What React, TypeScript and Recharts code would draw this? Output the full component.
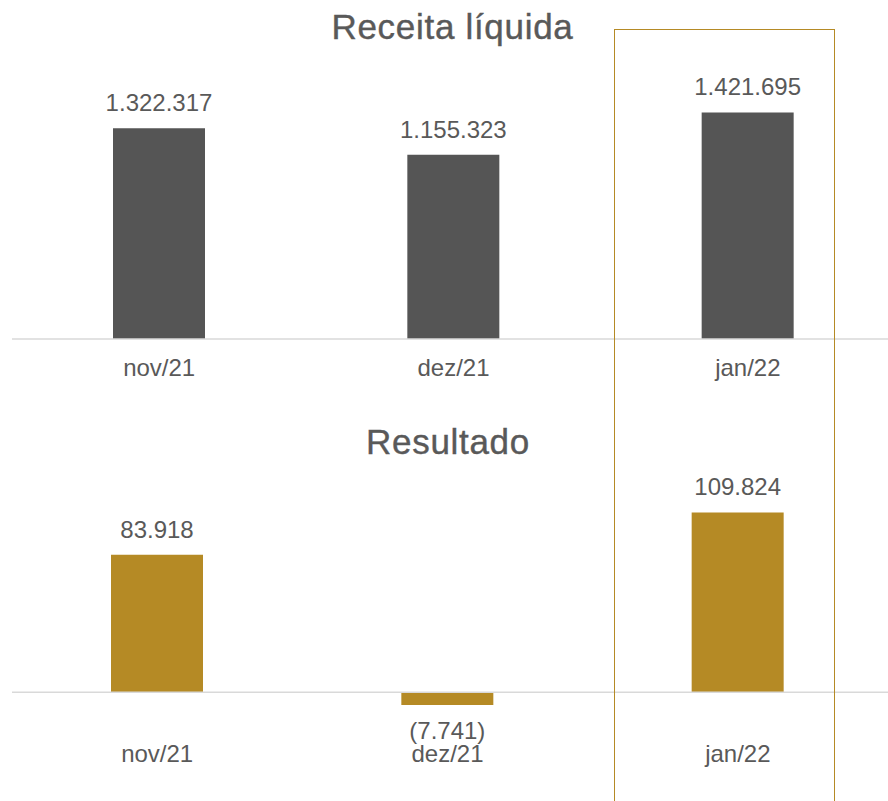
import { BarChart, Bar, XAxis, YAxis, LabelList, ReferenceLine } from 'recharts';

const months = ['nov/21', 'dez/21', 'jan/22'];
const receitaLiquida = [1322317, 1155323, 1421695];
const resultado = [83918, -7741, 109824];

const receitaData = months.map((month, i) => ({ month, value: receitaLiquida[i] }));
const resultadoData = months.map((month, i) => ({ month, value: resultado[i] }));

const TEXT = '#595959';
const GRAY_BAR = '#555555';
const GOLD = '#B58A25';
const ZERO_LINE = '#d9d9d9';

// pt-BR style: 1.234.567, negatives in parentheses
function formatValue(v: number) {
  const abs = String(Math.abs(v)).replace(/\B(?=(\d{3})+(?!\d))/g, '.');
  return v < 0 ? `(${abs})` : abs;
}

function Title({ text, baseline, cx }: { text: string; baseline: number; cx: number }) {
  const size = 35;
  return (
    <div
      style={{
        position: 'absolute',
        left: cx - 200,
        width: 400,
        top: baseline - size * 0.8465,
        fontSize: size,
        lineHeight: `${size}px`,
        letterSpacing: 0.7,
        textAlign: 'center',
        color: TEXT,
        WebkitTextStroke: `0.4px ${TEXT}`,
      }}
    >
      {text}
    </div>
  );
}

export default function App() {
  const tick = { fill: TEXT, fontSize: 24 };
  return (
    <div
      style={{
        position: 'absolute',
        left: 0,
        top: 0,
        width: 888,
        height: 801,
        overflow: 'hidden',
        background: '#fff',
        fontFamily: '"Liberation Sans", Arial, sans-serif',
      }}
    >
      <Title text="Receita líquida" baseline={39} cx={452.5} />
      <Title text="Resultado" baseline={454} cx={448} />

      <div style={{ position: 'absolute', left: 0, top: 0 }}>
        <BarChart
          width={900}
          height={400}
          data={receitaData}
          margin={{ top: 84, right: 5, left: 12, bottom: 0 }}
        >
          <XAxis
            dataKey="month"
            height={61}
            tickLine={false}
            tickMargin={14}
            axisLine={{ stroke: ZERO_LINE, strokeWidth: 1.5 }}
            tick={tick}
          />
          <YAxis hide domain={[0, 1600000]} />
          <Bar dataKey="value" fill={GRAY_BAR} barSize={92} isAnimationActive={false}>
            <LabelList
              dataKey="value"
              position="top"
              offset={17}
              formatter={(v: number) => formatValue(v)}
              fill={TEXT}
              fontSize={24}
            />
          </Bar>
        </BarChart>
      </div>

      <div style={{ position: 'absolute', left: 0, top: 400 }}>
        <BarChart
          width={900}
          height={401}
          data={resultadoData}
          margin={{ top: 63, right: 17, left: 12, bottom: 0 }}
        >
          <XAxis
            dataKey="month"
            height={76}
            tickLine={false}
            tickMargin={14}
            axisLine={false}
            tick={tick}
          />
          <YAxis hide domain={[-20000, 140000]} />
          <ReferenceLine
            y={0}
            stroke={ZERO_LINE}
            strokeWidth={1.5}
            shape={(p: any) => (
              <line x1={p.x1} y1={p.y1} x2={p.x2 + 6} y2={p.y2} stroke={ZERO_LINE} strokeWidth={1.5} />
            )}
          />
          <Bar dataKey="value" fill={GOLD} barSize={92} isAnimationActive={false}>
            <LabelList
              dataKey="value"
              position="top"
              offset={17}
              formatter={(v: number) => formatValue(v)}
              fill={TEXT}
              fontSize={24}
            />
          </Bar>
        </BarChart>
      </div>

      <div
        style={{
          position: 'absolute',
          left: 614,
          top: 29,
          width: 221,
          height: 800,
          border: `1px solid ${GOLD}`,
          boxSizing: 'border-box',
          pointerEvents: 'none',
        }}
      />
    </div>
  );
}
